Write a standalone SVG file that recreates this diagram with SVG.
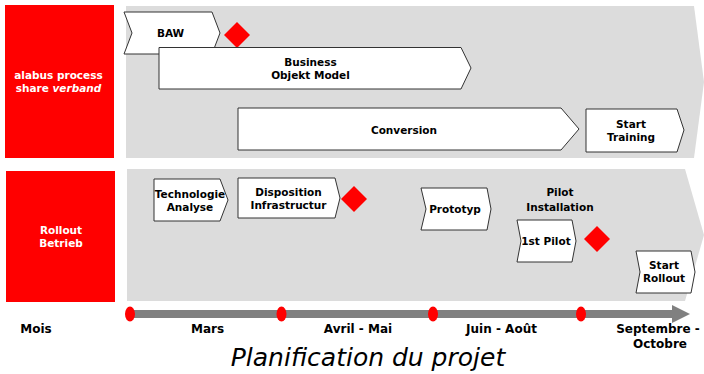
<svg xmlns="http://www.w3.org/2000/svg" width="704" height="374" viewBox="0 0 704 374">
<style>
.band{fill:#dcdcdc}
.lane{fill:#ff0000}
.box{fill:#ffffff;stroke:#333333;stroke-width:1}
.ms{fill:#ff0000}
.t{font-family:"DejaVu Sans","Verdana",sans-serif;font-weight:bold;font-size:10.5px;fill:#000;text-anchor:middle}
.ax{font-size:12px}
.w{fill:#ffffff}
.title{font-family:"DejaVu Sans","Verdana",sans-serif;font-style:italic;font-size:25px;fill:#000;text-anchor:middle}
.dot{fill:#ff0000}
</style>
<rect width="704" height="374" fill="#ffffff"/>
<g id="lane1">
<rect class="lane" x="5" y="5" width="109" height="153"/>
<text class="t w" x="58.5" y="79">alabus process</text>
<text class="t w" x="58.5" y="92">share <tspan font-style="italic">verband</tspan></text>
<polygon class="band" points="126,6 694,6 704,82 694,158 126,158"/>
</g>
<g id="lane2">
<rect class="lane" x="6" y="171" width="109" height="131"/>
<text class="t w" x="61" y="234">Rollout</text>
<text class="t w" x="61" y="247">Betrieb</text>
<polygon class="band" points="127,169 685,169 704,235 685,301 127,301"/>
</g>
<g id="baw">
<polygon class="box" points="124,12 212,12 220,33 212,54 124,54 132,33"/>
<text class="t" x="170.5" y="37">BAW</text>
</g>
<g id="ms1"><polygon class="ms" points="237,22 250,35 237,48 224,35"/></g>
<g id="bom">
<polygon class="box" points="159,47.5 461,47.5 471,68 461,89 159,89"/>
<text class="t" x="310.5" y="66">Business</text>
<text class="t" x="310.5" y="79">Objekt Model</text>
</g>
<g id="conversion">
<polygon class="box" points="238,108 561,108 579,129 561,150 238,150"/>
<text class="t" x="404" y="134">Conversion</text>
</g>
<g id="training">
<polygon class="box" points="586,109 677,109 684,130 677,152 586,152"/>
<text class="t" x="631" y="128">Start</text>
<text class="t" x="631" y="141">Training</text>
</g>
<g id="tech">
<polygon class="box" points="154,179 220,179 228,200 220,221 154,221"/>
<text class="t" x="190" y="198">Technologie</text>
<text class="t" x="190" y="211">Analyse</text>
</g>
<g id="dispo">
<polygon class="box" points="238,178 335,178 340,198 335,218 238,218"/>
<text class="t" x="288.5" y="196">Disposition</text>
<text class="t" x="288.5" y="209">Infrastructur</text>
</g>
<g id="ms2"><polygon class="ms" points="354,186 367,199 354,212 341,199"/></g>
<g id="proto">
<polygon class="box" points="421,188 487,188 491,209 487,230 421,230 426,209"/>
<text class="t" x="455" y="213">Prototyp</text>
</g>
<g id="pilotlabel">
<text class="t" x="560" y="196" font-size="11px">Pilot</text>
<text class="t" x="560" y="211" font-size="11px">Installation</text>
</g>
<g id="pilot1">
<polygon class="box" points="517,220 572,220 576,241 572,262 517,262 521,241"/>
<text class="t" x="546" y="245">1st Pilot</text>
</g>
<g id="ms3"><polygon class="ms" points="597,226 610,239 597,252 584,239"/></g>
<g id="rollout">
<polygon class="box" points="636,251 691,251 695,272 691,293 636,293 640,272"/>
<text class="t" x="664" y="269">Start</text>
<text class="t" x="664" y="282">Rollout</text>
</g>
<g id="connectors">
<rect x="130" y="310" width="543" height="8" fill="#808080"/>
<polygon points="672,305 690,314 672,323" fill="#808080"/>
<ellipse class="dot" cx="130" cy="314" rx="5" ry="7.5"/>
<ellipse class="dot" cx="281.5" cy="314" rx="5" ry="7.5"/>
<ellipse class="dot" cx="433" cy="314" rx="5" ry="7.5"/>
<ellipse class="dot" cx="581" cy="314" rx="5" ry="7.5"/>
</g>
<g id="axis">
<text class="t ax" x="36" y="333">Mois</text>
<text class="t ax" x="207.5" y="333">Mars</text>
<text class="t ax" x="358" y="333">Avril - Mai</text>
<text class="t ax" x="501.5" y="333">Juin - Août</text>
<text class="t ax" x="658" y="333">Septembre -</text>
<text class="t ax" x="660" y="348">Octobre</text>
<text class="title" x="368" y="366">Planification du projet</text>
</g>
</svg>
